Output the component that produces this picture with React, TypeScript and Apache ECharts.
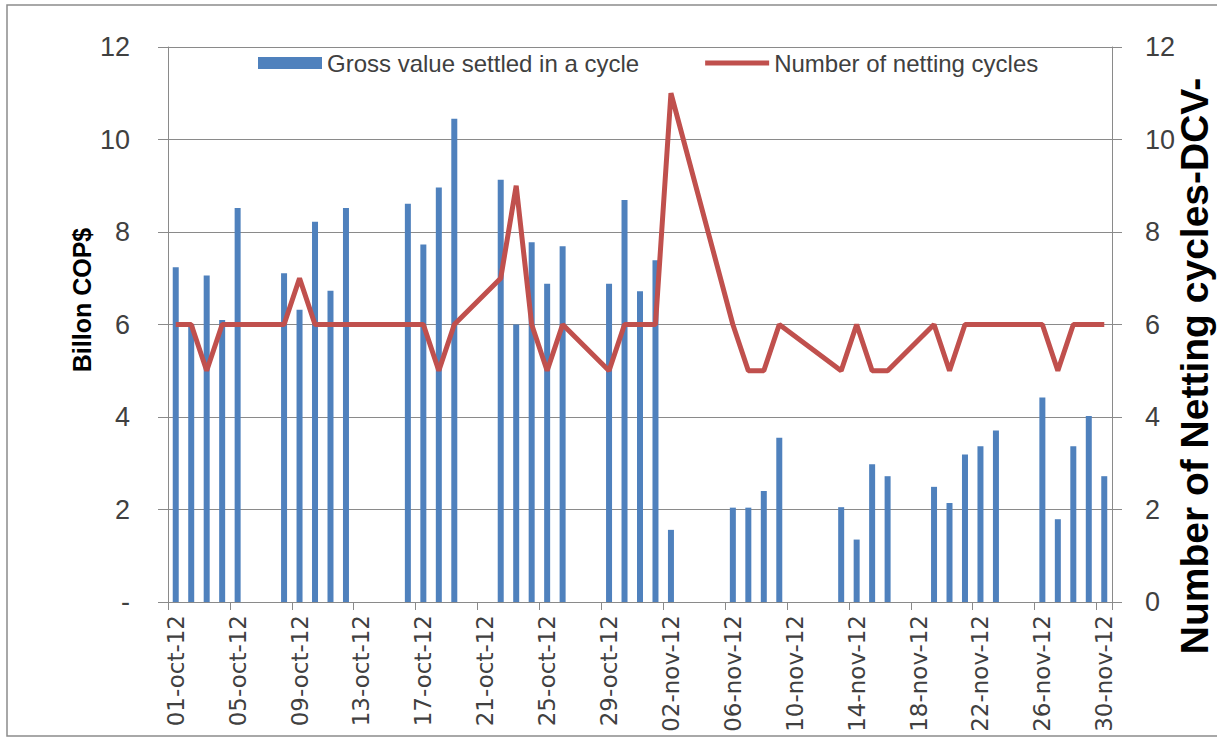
import React, { useEffect, useRef } from "react";
import * as echarts from "echarts";

const octDays = Array.from({ length: 31 }, (_, i) => String(i + 1).padStart(2, "0") + "-oct-12");
const novDays = Array.from({ length: 30 }, (_, i) => String(i + 1).padStart(2, "0") + "-nov-12");
const categories = [...octDays, ...novDays];

// Gross value settled in a cycle (Billon COP$); null = no settlement (weekend/holiday)
const grossOct = [
  7.24, 6.0, 7.06, 6.1, 8.52, null, null,
  7.11, 6.32, 8.22, 6.73, 8.52, null, null,
  null, 8.61, 7.73, 8.96, 10.45, null, null,
  9.13, 6.0, 7.78, 6.88, 7.69, null, null,
  6.88, 8.69, 6.72,
];
const grossNov = [
  7.39, 1.56, null, null,
  null, 2.04, 2.04, 2.4, 3.55, null, null,
  null, 2.05, 1.35, 2.98, 2.72, null, null,
  2.49, 2.14, 3.19, 3.37, 3.71, null, null,
  4.42, 1.79, 3.37, 4.02, 2.72,
];

// Number of netting cycles
const cyclesOct = [
  6, 6, 5, 6, 6, null, null,
  6, 7, 6, 6, 6, null, null,
  null, 6, 6, 5, 6, null, null,
  7, 9, 6, 5, 6, null, null,
  5, 6, 6,
];
const cyclesNov = [
  6, 11, null, null,
  null, 6, 5, 5, 6, null, null,
  null, 5, 6, 5, 5, null, null,
  6, 5, 6, 6, 6, null, null,
  6, 5, 6, 6, 6,
];

const grossValues = [...grossOct, ...grossNov];
const cycleValues = [...cyclesOct, ...cyclesNov];

const leftTicks = { min: 0, max: 12, interval: 2 };
const rightTicks = { min: 0, max: 12, interval: 2 };

export default function App() {
  const ref = useRef<HTMLDivElement>(null);
  useEffect(() => {
    if (!ref.current) return;
    const chart = echarts.init(ref.current, null, { renderer: "svg" });
    const labelColor = "#404040";
    chart.setOption({
      animation: false,
      backgroundColor: "#ffffff",
      grid: {
        left: 168,
        right: 105,
        top: 47,
        bottom: 137,
        containLabel: false,
        outerBoundsMode: "none",
      },
      legend: {
        left: 258,
        top: 51,
        padding: 0,
        itemWidth: 64,
        itemHeight: 12,
        itemGap: 66,
        selectedMode: false,
        textStyle: { fontFamily: "Liberation Sans", fontSize: 24, color: labelColor },
        data: [
          { name: "Gross value settled in a cycle", icon: "rect" },
          { name: "Number of netting cycles", icon: "path://M0,0H64V5H0Z" },
        ],
      },
      xAxis: {
        type: "category",
        data: categories,
        boundaryGap: true,
        axisLine: { show: true, lineStyle: { color: "#8a8a8a", width: 1 } },
        axisTick: { show: true, interval: 3, length: 8, lineStyle: { color: "#8a8a8a" } },
        axisLabel: {
          interval: 3,
          rotate: 90,
          margin: 13,
          fontFamily: "DejaVu Sans",
          fontSize: 23,
          color: labelColor,
        },
        splitLine: { show: false },
      },
      yAxis: [
        {
          type: "value",
          position: "left",
          ...leftTicks,
          axisLine: { show: true, lineStyle: { color: "#8a8a8a" } },
          axisTick: { show: true, length: 10, lineStyle: { color: "#8a8a8a" } },
          splitLine: { show: true, lineStyle: { color: "#8a8a8a", width: 1 } },
          axisLabel: {
            margin: 38,
            fontFamily: "Liberation Sans",
            fontSize: 27,
            color: labelColor,
            formatter: (v: number) => (v === 0 ? "-" : String(v)),
          },
        },
        {
          type: "value",
          position: "right",
          ...rightTicks,
          axisLine: { show: true, lineStyle: { color: "#8a8a8a" } },
          axisTick: { show: true, length: 10, lineStyle: { color: "#8a8a8a" } },
          splitLine: { show: false },
          axisLabel: {
            margin: 33,
            fontFamily: "Liberation Sans",
            fontSize: 27,
            color: labelColor,
          },
        },
      ],
      series: [
        {
          name: "Gross value settled in a cycle",
          type: "bar",
          yAxisIndex: 0,
          data: grossValues,
          barWidth: 6,
          itemStyle: { color: "#4f81bd" },
          z: 2,
        },
        {
          name: "Number of netting cycles",
          type: "line",
          yAxisIndex: 1,
          data: cycleValues,
          connectNulls: true,
          symbol: "none",
          showSymbol: false,
          lineStyle: { color: "#c0504d", width: 5 },
          itemStyle: { color: "#c0504d" },
          z: 3,
        },
      ],
      graphic: [
        {
          type: "rect",
          shape: { x: 7, y: 5, width: 1240, height: 731 },
          style: { fill: "none", stroke: "#8c8c8c", lineWidth: 1.5 },
          silent: true,
        },
        {
          type: "text",
          x: 82,
          y: 300,
          rotation: Math.PI / 2,
          style: {
            text: "Billon COP$",
            fontFamily: "Liberation Sans",
            fontWeight: "bold",
            fontSize: 25,
            fill: "#000000",
            align: "center",
            verticalAlign: "middle",
          },
        },
        {
          type: "text",
          x: 1194,
          y: 366,
          rotation: Math.PI / 2,
          style: {
            text: "Number of Netting cycles-DCV-",
            fontFamily: "Liberation Sans",
            fontWeight: "bold",
            fontSize: 39,
            fill: "#000000",
            align: "center",
            verticalAlign: "middle",
          },
        },
      ],
    });
    return () => chart.dispose();
  }, []);
  return (
    <div
      ref={ref}
      style={{ position: "fixed", left: 0, top: 0, width: 1217, height: 739, background: "#fff" }}
    />
  );
}
